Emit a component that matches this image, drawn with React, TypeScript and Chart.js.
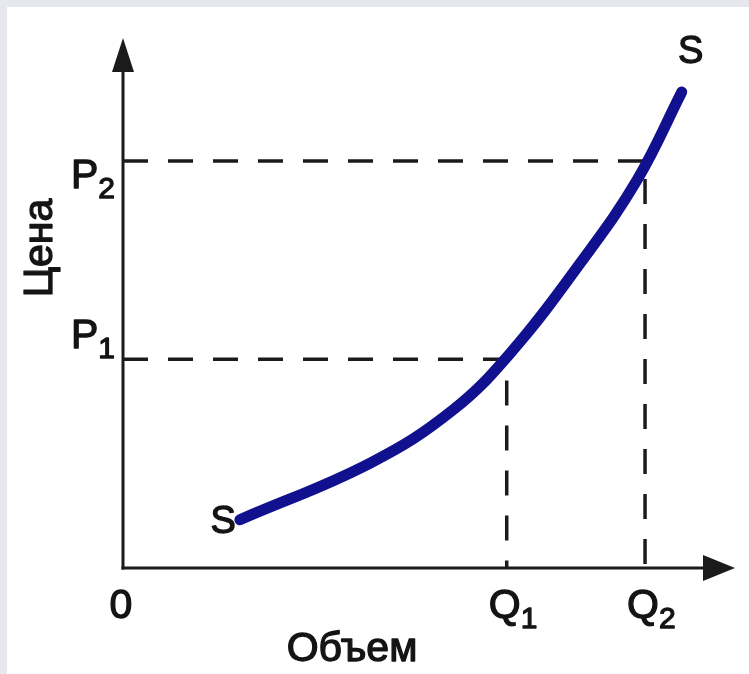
import React, { useEffect, useRef } from "react";
import { Chart, registerables } from "chart.js";

Chart.register(...registerables);

// Supply curve S–S (data units: quantity 0..100, price 0..100)
const supplyQuantity = [19.1, 40.4, 53.9, 63.7, 74.7, 84.0, 91.3];
const supplyPrice = [9.1, 19.8, 29.8, 41.1, 57.5, 73.2, 89.8];

// Reference levels
const quantityLevels = [62.7, 85.3]; // Q1, Q2
const priceLevels = [39.4, 76.8]; // P1, P2

// Tick labels
const xTickValues = [0, quantityLevels[0], quantityLevels[1]];
const xTickLabels = ["0", "Q1", "Q2"];
const yTickValues = [priceLevels[0], priceLevels[1]];
const yTickLabels = ["P1", "P2"];

const xTitle = "Объем";
const yTitle = "Цена";
const curveLabel = "S";

const FONT = "'Liberation Sans', Arial, Helvetica, sans-serif";
const INK = "#1b1b1b";

export default function App() {
  const canvasRef = useRef<HTMLCanvasElement | null>(null);

  useEffect(() => {
    const canvas = canvasRef.current;
    if (!canvas) return;

    const heavyText = (ctx: CanvasRenderingContext2D, t: string, x: number, y: number) => {
      ctx.fillText(t, x, y);
      ctx.strokeText(t, x, y);
    };

    const drawLabel = (
      ctx: CanvasRenderingContext2D,
      text: string,
      x: number,
      baseline: number,
      align: "left" | "center" | "right"
    ) => {
      const main = text.charAt(0);
      const sub = text.slice(1);
      ctx.font = `41px ${FONT}`;
      const mw = ctx.measureText(main).width;
      ctx.font = `30px ${FONT}`;
      const sw = sub ? ctx.measureText(sub).width : 0;
      let left = x;
      if (align === "center") left = x - mw / 2;
      if (align === "right") left = x - mw - sw;
      ctx.textAlign = "left";
      ctx.textBaseline = "alphabetic";
      ctx.font = `41px ${FONT}`;
      heavyText(ctx, main, left, baseline);
      if (sub) {
        ctx.font = `30px ${FONT}`;
        heavyText(ctx, sub, left + mw, baseline + 10);
      }
    };

    const axesPlugin = {
      id: "economicAxes",
      beforeDatasetsDraw(chart: any) {
        const { ctx, chartArea, scales } = chart;
        const x0 = scales.x.getPixelForValue(0);
        const y0 = scales.y.getPixelForValue(0);
        ctx.save();
        ctx.strokeStyle = INK;
        ctx.fillStyle = INK;
        ctx.lineWidth = 3;
        ctx.lineCap = "butt";
        // y axis
        ctx.beginPath();
        ctx.moveTo(x0, y0 + 1.5);
        ctx.lineTo(x0, chartArea.top + 30);
        ctx.stroke();
        ctx.beginPath();
        ctx.moveTo(x0, chartArea.top);
        ctx.lineTo(x0 + 11, chartArea.top + 34);
        ctx.lineTo(x0 - 11, chartArea.top + 34);
        ctx.closePath();
        ctx.fill();
        // x axis
        ctx.beginPath();
        ctx.moveTo(x0 - 1.5, y0);
        ctx.lineTo(chartArea.right - 28, y0);
        ctx.stroke();
        ctx.beginPath();
        ctx.moveTo(chartArea.right, y0);
        ctx.lineTo(chartArea.right - 32, y0 - 13);
        ctx.lineTo(chartArea.right - 32, y0 + 13);
        ctx.closePath();
        ctx.fill();
        ctx.restore();
      },
      afterDraw(chart: any) {
        const { ctx, chartArea, scales } = chart;
        const xs = scales.x;
        const ys = scales.y;
        const x0 = xs.getPixelForValue(0);
        const y0 = ys.getPixelForValue(0);
        ctx.save();
        ctx.fillStyle = "#141414";
        ctx.strokeStyle = "#141414";
        ctx.lineWidth = 1.3;
        ctx.lineJoin = "round";

        // x tick labels
        xTickValues.forEach((v, i) => {
          drawLabel(ctx, xTickLabels[i], xs.getPixelForValue(v) - 2, y0 + 50, "center");
        });
        // y tick labels
        const yBaselineOffsets = [-11, 27];
        yTickValues.forEach((v, i) => {
          drawLabel(ctx, yTickLabels[i], x0 - 8, ys.getPixelForValue(v) + yBaselineOffsets[i], "right");
        });

        // axis titles
        ctx.font = `41px ${FONT}`;
        ctx.textAlign = "center";
        ctx.textBaseline = "middle";
        heavyText(ctx, xTitle, 352, y0 + 82);
        ctx.save();
        ctx.translate(41, (chartArea.top + y0) / 2 - 55);
        ctx.rotate(-Math.PI / 2);
        heavyText(ctx, yTitle, 0, 0);
        ctx.restore();

        // curve end labels
        const n = supplyQuantity.length;
        const sx = xs.getPixelForValue(supplyQuantity[0]);
        const sy = ys.getPixelForValue(supplyPrice[0]);
        const ex = xs.getPixelForValue(supplyQuantity[n - 1]);
        const ey = ys.getPixelForValue(supplyPrice[n - 1]);
        ctx.font = `38px ${FONT}`;
        ctx.textAlign = "right";
        ctx.textBaseline = "middle";
        heavyText(ctx, curveLabel, sx - 4, sy + 3);
        ctx.textAlign = "center";
        heavyText(ctx, curveLabel, ex + 9, ey - 40);
        ctx.restore();
      },
    };

    const dashed = {
      showLine: true,
      borderColor: INK,
      borderWidth: 3.5,
      borderDash: [25, 20],
      pointRadius: 0,
      tension: 0,
      clip: false as any,
    };

    const chart = new Chart(canvas, {
      type: "scatter",
      data: {
        datasets: [
          {
            label: "S",
            data: supplyQuantity.map((q, i) => ({ x: q, y: supplyPrice[i] })),
            showLine: true,
            borderColor: "#11118f",
            borderWidth: 11,
            borderCapStyle: "round",
            borderJoinStyle: "round",
            pointRadius: 0,
            tension: 0.4,
            clip: false as any,
          },
          {
            label: "P1-Q1",
            data: [
              { x: 0, y: priceLevels[0] },
              { x: quantityLevels[0], y: priceLevels[0] },
              { x: quantityLevels[0], y: 0 },
            ],
            ...dashed,
          },
          {
            label: "P2-Q2",
            data: [
              { x: 0, y: priceLevels[1] },
              { x: quantityLevels[1], y: priceLevels[1] },
              { x: quantityLevels[1], y: 0 },
            ],
            ...dashed,
          },
        ],
      },
      options: {
        animation: false,
        responsive: false,
        events: [],
        layout: { padding: { left: 123, right: 14, top: 38, bottom: 106 } },
        scales: {
          x: { type: "linear", min: 0, max: 100, display: false },
          y: { type: "linear", min: 0, max: 100, display: false },
        },
        plugins: {
          legend: { display: false },
          tooltip: { enabled: false },
        },
      },
      plugins: [axesPlugin],
    } as any);

    return () => chart.destroy();
  }, []);

  return (
    <div
      style={{
        position: "fixed",
        left: 0,
        top: 0,
        width: 749,
        height: 674,
        background: "#e7e7ee",
        overflow: "hidden",
      }}
    >
      <div
        style={{
          position: "absolute",
          left: 7,
          top: 7,
          width: 742,
          height: 667,
          background: "#ffffff",
        }}
      />
      <canvas
        ref={canvasRef}
        width={749}
        height={674}
        style={{ position: "absolute", left: 0, top: 0, width: 749, height: 674 }}
      />
    </div>
  );
}
